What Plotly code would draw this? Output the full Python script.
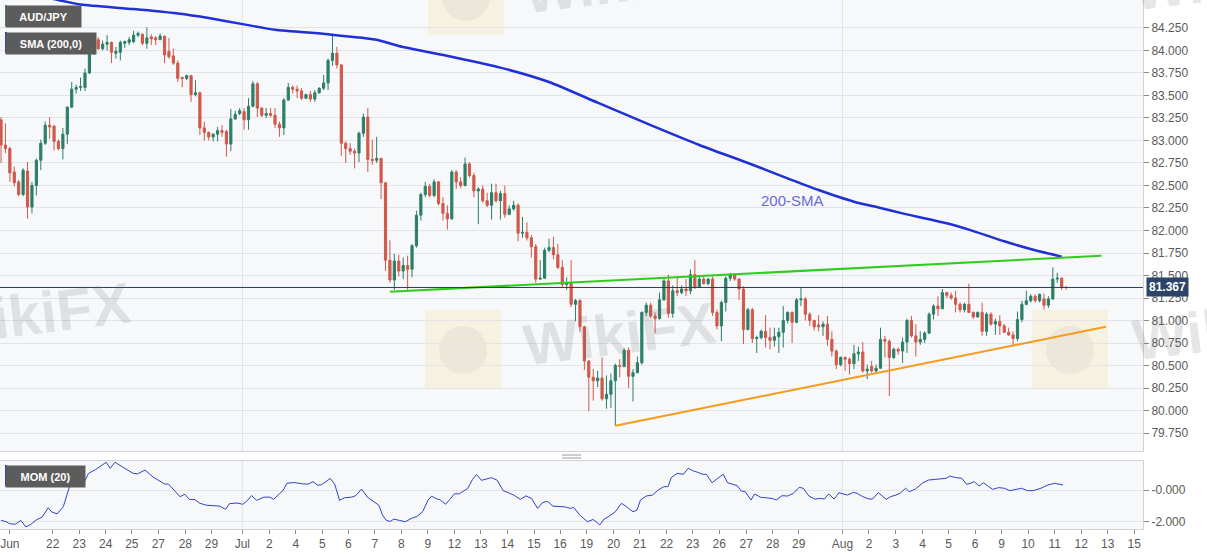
import plotly.graph_objects as go

# ---- data (AUD/JPY, 4H bars, bar 0 = first bar on the left) ----
opens = [
    83.23, 82.95, 82.91, 82.65, 82.54, 82.40, 82.66, 82.26, 82.50, 82.78, 82.97, 83.17,
    83.16, 82.99, 82.91, 83.07, 83.37, 83.57, 83.59, 83.59, 83.75, 84.01, 84.12, 84.02,
    84.07, 84.09, 83.97, 83.98, 84.08, 84.09, 84.10, 84.17, 84.18, 84.08, 84.15, 84.14,
    84.12, 84.16, 83.99, 83.94, 83.86, 83.70, 83.69, 83.72, 83.51, 83.53, 83.14, 83.09,
    83.04, 83.07, 83.11, 83.10, 82.96, 83.24, 83.30, 83.32, 83.23, 83.38, 83.63, 83.36,
    83.28, 83.30, 83.28, 83.18, 83.14, 83.45, 83.59, 83.57, 83.55, 83.47, 83.51, 83.46,
    83.53, 83.58, 83.64, 83.89, 83.97, 83.84, 82.97, 82.91, 82.88, 82.86, 83.08, 83.26,
    82.79, 82.78, 82.80, 82.53, 81.67, 81.45, 81.66, 81.55, 81.61, 81.57, 81.83, 82.17,
    82.40, 82.49, 82.39, 82.54, 82.30, 82.19, 82.13, 82.65, 82.54, 82.50, 82.74, 82.61,
    82.44, 82.46, 82.33, 82.28, 82.42, 82.33, 82.41, 82.18, 82.24, 82.28, 81.97, 81.98,
    81.92, 81.82, 81.46, 81.47, 81.78, 81.81, 81.73, 81.59, 81.40, 81.42, 81.18, 81.22,
    80.93, 80.55, 80.37, 80.33, 80.36, 80.13, 80.18, 80.33, 80.50, 80.49, 80.67, 80.38,
    80.42, 80.53, 81.09, 81.17, 81.05, 81.02, 81.23, 81.44, 81.08, 81.33, 81.31, 81.35,
    81.33, 81.51, 81.37, 81.46, 81.41, 81.46, 81.09, 80.94, 81.20, 81.47, 81.51, 81.46,
    81.35, 80.90, 81.12, 80.80, 80.81, 80.88, 80.81, 80.78, 80.82, 80.87, 81.00, 81.09,
    80.98, 81.23, 81.24, 81.07, 81.00, 80.95, 80.93, 80.96, 80.79, 80.66, 80.51, 80.59,
    80.57, 80.52, 80.63, 80.65, 80.44, 80.49, 80.44, 80.47, 80.79, 80.77, 80.59, 80.68,
    80.66, 80.76, 81.00, 80.83, 80.76, 80.79, 80.86, 81.07, 81.16, 81.13, 81.31, 81.28,
    81.25, 81.18, 81.12, 81.18, 81.09, 81.04, 81.09, 80.88, 81.07, 80.96, 80.99, 80.94,
    80.87, 80.84, 80.80, 81.01, 81.18, 81.22, 81.27, 81.22, 81.24, 81.17, 81.24, 81.46,
    81.47, 81.37,
]
highs = [
    83.26, 83.19, 82.93, 82.71, 82.56, 82.69, 82.76, 82.54, 82.80, 83.01, 83.21, 83.26,
    83.17, 83.01, 83.14, 83.38, 83.65, 83.62, 83.70, 83.80, 84.02, 84.15, 84.15, 84.11,
    84.17, 84.10, 84.04, 84.11, 84.11, 84.15, 84.22, 84.21, 84.19, 84.26, 84.18, 84.16,
    84.19, 84.16, 84.14, 84.02, 83.89, 83.71, 83.73, 83.73, 83.67, 83.54, 83.21, 83.10,
    83.08, 83.15, 83.17, 83.12, 83.35, 83.33, 83.36, 83.36, 83.47, 83.66, 83.65, 83.37,
    83.36, 83.36, 83.36, 83.21, 83.47, 83.64, 83.61, 83.61, 83.58, 83.52, 83.55, 83.56,
    83.59, 83.73, 83.91, 84.19, 84.04, 83.85, 82.99, 82.97, 82.91, 83.10, 83.30, 83.36,
    83.01, 83.04, 82.81, 82.54, 81.89, 81.74, 81.73, 81.70, 81.72, 81.85, 82.22, 82.42,
    82.54, 82.52, 82.57, 82.55, 82.37, 82.28, 82.67, 82.67, 82.59, 82.81, 82.76, 82.64,
    82.48, 82.50, 82.42, 82.52, 82.52, 82.44, 82.50, 82.28, 82.33, 82.30, 82.15, 82.09,
    81.95, 81.85, 81.67, 81.81, 81.91, 81.93, 81.85, 81.67, 81.48, 81.67, 81.24, 81.24,
    80.94, 80.56, 80.46, 80.44, 80.59, 80.39, 80.41, 80.52, 80.57, 80.69, 80.70, 80.46,
    80.60, 81.10, 81.20, 81.20, 81.09, 81.31, 81.46, 81.51, 81.39, 81.49, 81.39, 81.46,
    81.57, 81.67, 81.49, 81.49, 81.47, 81.49, 81.12, 81.22, 81.49, 81.53, 81.52, 81.47,
    81.38, 81.14, 81.14, 80.83, 80.90, 81.06, 80.92, 80.92, 80.92, 81.16, 81.10, 81.10,
    81.25, 81.36, 81.26, 81.09, 81.01, 81.06, 80.99, 81.05, 80.88, 80.68, 80.60, 80.60,
    80.59, 80.73, 80.71, 80.76, 80.51, 80.55, 80.51, 80.92, 80.83, 80.79, 80.70, 80.70,
    80.81, 81.02, 81.05, 80.96, 80.88, 80.88, 81.09, 81.18, 81.27, 81.35, 81.32, 81.31,
    81.33, 81.20, 81.20, 81.41, 81.10, 81.10, 81.20, 81.09, 81.09, 81.02, 81.06, 80.96,
    80.92, 80.88, 81.10, 81.22, 81.33, 81.29, 81.29, 81.30, 81.30, 81.27, 81.59, 81.53,
    81.48, 81.38,
]
lows = [
    82.75, 82.86, 82.54, 82.49, 82.38, 82.38, 82.13, 82.19, 82.39, 82.67, 82.95, 83.02,
    82.89, 82.89, 82.79, 82.96, 83.36, 83.52, 83.55, 83.55, 83.74, 83.95, 84.01, 84.00,
    84.00, 83.86, 83.91, 83.89, 84.03, 84.06, 84.08, 84.15, 84.06, 84.02, 84.06, 84.06,
    84.12, 83.86, 83.91, 83.84, 83.65, 83.59, 83.67, 83.43, 83.49, 83.06, 83.00, 83.00,
    82.99, 82.99, 83.04, 82.82, 82.88, 83.23, 83.28, 83.12, 83.12, 83.37, 83.26, 83.26,
    83.25, 83.26, 83.14, 83.04, 83.06, 83.44, 83.52, 83.47, 83.45, 83.46, 83.43, 83.43,
    83.52, 83.56, 83.56, 83.83, 83.80, 82.83, 82.75, 82.84, 82.69, 82.76, 83.04, 82.65,
    82.73, 82.75, 82.35, 81.55, 81.42, 81.34, 81.49, 81.46, 81.34, 81.48, 81.81, 82.11,
    82.37, 82.37, 82.37, 82.28, 82.11, 82.01, 82.12, 82.46, 82.47, 82.49, 82.59, 82.37,
    82.07, 82.31, 82.26, 82.12, 82.31, 82.12, 82.14, 82.17, 82.22, 81.88, 81.92, 81.89,
    81.70, 81.42, 81.45, 81.46, 81.76, 81.68, 81.57, 81.37, 81.34, 81.15, 80.99, 80.87,
    80.45, 79.99, 80.11, 80.26, 80.11, 80.02, 80.03, 79.83, 80.37, 80.48, 80.25, 80.10,
    80.42, 80.51, 81.05, 81.03, 80.86, 81.01, 81.22, 81.03, 81.03, 81.27, 81.29, 81.27,
    81.29, 81.35, 81.36, 81.40, 81.39, 81.05, 80.90, 80.77, 81.10, 81.44, 81.44, 81.23,
    80.74, 80.89, 80.75, 80.64, 80.79, 80.70, 80.68, 80.71, 80.64, 80.70, 80.97, 80.75,
    80.97, 81.16, 81.00, 80.94, 80.89, 80.88, 80.83, 80.72, 80.60, 80.46, 80.49, 80.44,
    80.40, 80.46, 80.55, 80.42, 80.35, 80.42, 80.42, 80.46, 80.59, 80.16, 80.57, 80.62,
    80.53, 80.64, 80.81, 80.60, 80.73, 80.75, 80.85, 81.01, 81.05, 81.13, 81.25, 81.23,
    81.09, 81.09, 81.09, 81.09, 81.02, 81.03, 80.83, 80.83, 80.94, 80.84, 80.84, 80.86,
    80.83, 80.72, 80.77, 80.98, 81.17, 81.20, 81.20, 81.20, 81.12, 81.14, 81.23, 81.42,
    81.34, 81.34,
]
closes = [
    82.95, 82.91, 82.64, 82.53, 82.40, 82.67, 82.26, 82.50, 82.78, 82.97, 83.17, 83.15,
    82.99, 82.91, 83.07, 83.37, 83.57, 83.59, 83.60, 83.75, 84.01, 84.12, 84.02, 84.07,
    84.09, 83.98, 83.99, 84.09, 84.10, 84.12, 84.17, 84.19, 84.08, 84.14, 84.13, 84.12,
    84.16, 83.95, 83.93, 83.86, 83.69, 83.69, 83.72, 83.51, 83.53, 83.14, 83.09, 83.04,
    83.07, 83.11, 83.09, 82.96, 83.24, 83.29, 83.33, 83.23, 83.38, 83.63, 83.36, 83.28,
    83.30, 83.28, 83.18, 83.14, 83.45, 83.59, 83.57, 83.55, 83.47, 83.51, 83.46, 83.53,
    83.58, 83.64, 83.89, 83.97, 83.84, 82.97, 82.91, 82.88, 82.86, 83.08, 83.26, 82.79,
    82.78, 82.80, 82.53, 81.67, 81.45, 81.66, 81.55, 81.61, 81.57, 81.83, 82.17, 82.40,
    82.49, 82.39, 82.54, 82.30, 82.19, 82.13, 82.65, 82.54, 82.50, 82.74, 82.61, 82.44,
    82.46, 82.33, 82.28, 82.42, 82.33, 82.41, 82.18, 82.24, 82.28, 81.97, 81.98, 81.92,
    81.82, 81.46, 81.47, 81.78, 81.81, 81.73, 81.59, 81.40, 81.42, 81.18, 81.22, 80.93,
    80.55, 80.37, 80.33, 80.36, 80.13, 80.18, 80.33, 80.50, 80.49, 80.67, 80.38, 80.42,
    80.53, 81.09, 81.17, 81.05, 81.02, 81.23, 81.44, 81.08, 81.33, 81.31, 81.35, 81.33,
    81.51, 81.37, 81.46, 81.41, 81.46, 81.09, 80.94, 81.20, 81.47, 81.51, 81.46, 81.35,
    80.90, 81.12, 80.80, 80.81, 80.88, 80.81, 80.78, 80.82, 80.87, 81.00, 81.09, 80.98,
    81.23, 81.24, 81.07, 81.00, 80.93, 80.93, 80.96, 80.79, 80.66, 80.51, 80.59, 80.57,
    80.52, 80.63, 80.65, 80.44, 80.46, 80.44, 80.47, 80.79, 80.77, 80.59, 80.68, 80.66,
    80.76, 81.00, 80.83, 80.76, 80.79, 80.86, 81.07, 81.16, 81.13, 81.31, 81.28, 81.25,
    81.18, 81.12, 81.18, 81.09, 81.04, 81.09, 80.88, 81.07, 80.96, 80.99, 80.94, 80.87,
    80.84, 80.80, 81.01, 81.18, 81.22, 81.27, 81.22, 81.29, 81.17, 81.24, 81.46, 81.47,
    81.37, 81.367,
]
bars = list(range(len(closes)))

# 200-period SMA, sampled along the curve
sma_bar = [0, 13, 18, 30, 40, 47, 55, 62, 74, 85, 90, 102, 113, 124, 135, 147, 158,
           169, 179, 185, 193, 199, 204, 214, 219, 227, 234, 240]
sma_val = [84.70, 84.56, 84.51, 84.46, 84.41, 84.36, 84.29, 84.23, 84.18, 84.12, 84.05,
           83.93, 83.81, 83.65, 83.42, 83.17, 82.95, 82.75, 82.56, 82.45, 82.32, 82.25,
           82.19, 82.08, 82.01, 81.88, 81.78, 81.71]

# trend lines (bar, price) at their two ends
resist_bar = [88, 249]
resist_val = [81.32, 81.72]
support_bar = [139, 250]
support_val = [79.83, 80.93]

# momentum (20)
mom_bar = [
    0, 1.1, 1.9, 3.2, 4.5, 5.6, 6.7, 8.0, 9.3, 10.7,
    11.4, 12.7, 14.1, 14.9, 15.6, 16.6, 17.9, 18.8, 19.8, 21.4,
    22.7, 23.8, 24.7, 25.8, 27.5, 29.9, 30.9, 32.6, 34.4, 35.7,
    37.0, 37.9, 39.2, 40.5, 41.6, 42.6, 43.9, 45.0, 46.5, 48.2,
    49.5, 50.8, 51.7, 53.4, 54.7, 55.6, 56.7, 57.8, 59.5, 60.8,
    61.7, 63.0, 63.8, 64.7, 66.4, 68.2, 69.5, 70.6, 71.6, 72.5,
    73.5, 74.5, 75.5, 76.6, 77.7, 79.4, 80.3, 81.6, 82.9, 84.2,
    85.5, 86.3, 87.2, 88.1, 88.9, 90.2, 91.5, 92.8, 94.1, 95.4,
    96.6, 97.4, 98.5, 99.3, 100.6, 101.5, 102.6, 103.7, 105.6, 106.7,
    107.6, 108.7, 109.7, 111.0, 112.3, 113.6, 114.9, 116.2, 117.5, 118.8,
    120.1, 121.4, 122.5, 123.6, 124.9, 126.2, 127.5, 128.8, 129.6, 130.9,
    132.7, 134.0, 135.5,
    136.4, 137.7, 139.0, 140.4, 141.7, 143.0, 143.9, 144.7, 146.0, 147.4,
    148.7, 150.0, 150.9, 151.7, 153.0, 154.4, 155.5, 156.5, 157.9, 158.7,
    159.6, 160.9, 162.2, 163.4, 164.4, 165.7, 166.6, 167.5, 168.4, 169.7,
    170.5, 171.9, 173.2, 174.5, 175.4, 176.7, 178.0, 179.3, 180.6, 181.5,
    182.8, 184.1, 185.4, 186.3, 187.3, 188.5, 189.6, 190.7, 191.5, 192.9,
    193.7, 195.0, 196.4, 197.2, 198.5, 200.3, 201.3, 202.5, 203.4, 204.7,
    205.5, 206.9, 208.6, 209.9, 211.2, 212.5, 213.9, 214.7, 216.0, 217.4,
    218.5, 219.4, 220.2, 221.3, 222.3, 223.5, 224.4, 225.7, 227.0, 228.3,
    229.6, 230.9, 232.2, 233.5, 235.3, 236.9, 238.4, 240.3,
]
mom_val = [
    -1.92, -1.99, -2.12, -2.16, -1.92, -2.33, -2.18, -1.88, -1.71, -1.12,
    -1.37, -1.51, -1.05, -0.24, 0.31, 0.37, 0.25, 0.47, 1.05, 1.29,
    1.55, 1.75, 1.37, 1.75, 1.45, 1.05, 1.02, 1.26, 0.82, 0.60,
    0.38, 0.37, -0.04, -0.42, -0.27, -0.59, -0.61, -0.84, -0.96, -1.02,
    -1.02, -1.22, -0.86, -0.82, -0.90, -0.71, -0.35, -0.65, -0.45, -0.45,
    -0.59, -0.24, -0.04, 0.43, 0.47, 0.39, 0.37, 0.53, 0.31, 0.33,
    0.53, 0.73, 0.37, -0.65, -0.49, -0.45, -0.35, 0.06, -0.45, -0.69,
    -0.96, -1.57, -1.92, -1.98, -1.84, -1.92, -2.00, -1.80, -1.67, -1.37,
    -0.65, -0.39, -0.55, -0.61, -0.90, -0.61, -0.24, -0.24, 0.10, 0.67,
    0.98, 0.61, 0.67, 0.78, 0.61, -0.04, -0.18, -0.35, -0.59, -0.37,
    -0.55, -1.16, -0.80, -0.71, -1.02, -1.06, -1.06, -1.16, -1.10, -1.57,
    -2.00, -1.86, -2.20,
    -1.85, -1.64, -1.37, -0.84, -1.09, -1.37, -1.26, -0.63, -0.38, -0.32,
    0.00, 0.21, 0.21, 0.80, 1.05, 0.99, 1.37, 1.22, 1.09, 0.99,
    0.99, 0.46, 0.74, 0.99, 0.46, 0.32, 0.27, -0.06, -0.11, -0.63,
    -0.25, -0.46, -0.48, -0.53, -0.63, -0.36, -0.38, -0.21, 0.17, 0.11,
    -0.38, -0.57, -0.53, -0.57, -0.25, -0.57, -0.17, -0.27, -0.32, -0.15,
    -0.21, -0.42, -0.57, -0.57, -0.17, -0.59, -0.42, -0.32, -0.21, 0.11,
    -0.11, 0.06, 0.46, 0.63, 0.67, 0.74, 0.74, 0.88, 0.78, 0.74,
    0.36, 0.42, 0.53, 0.25, 0.46, 0.21, 0.04, 0.15, 0.11, -0.04,
    0.04, 0.11, -0.04, -0.04, 0.11, 0.32, 0.42, 0.32,
]

# x axis day labels and the bar where each one sits
tick_text = ["Jun", "22", "23", "24", "25", "27", "28", "29", "Jul", "2", "4", "5", "6",
             "7", "8", "9", "12", "13", "14", "15", "16", "19", "20", "21", "22", "23",
             "26", "27", "28", "29", "Aug", "2", "3", "4", "5", "6", "9", "10", "11",
             "12", "13", "15"]
tick_bar = [2.0, 11.7, 17.7, 23.7, 29.6, 35.6, 41.7, 47.6, 54.6, 60.7, 66.7, 72.7, 78.6,
            84.6, 90.6, 96.6, 102.6, 108.6, 114.6, 120.6, 126.5, 132.5, 138.6, 144.5,
            150.6, 156.5, 162.5, 168.6, 174.6, 180.5, 190.4, 196.4, 202.5, 208.5, 214.4,
            220.4, 226.4, 232.4, 238.4, 244.4, 250.4, 256.4]
price_ticks = [79.75, 80.00, 80.25, 80.50, 80.75, 81.00, 81.25, 81.50, 81.75, 82.00,
               82.25, 82.50, 82.75, 83.00, 83.25, 83.50, 83.75, 84.00, 84.25]
mom_ticks = [0, -2]
mom_tick_text = ["-0.000", "-2.000"]
sma_label = ("200-SMA", 179, 82.33)

# ---- styling ----
GREEN = "#2b7f66"
RED = "#d0584a"
GRID = "#e3e4e8"
FRAME = "#cfd2da"
FONT = "Arial, Liberation Sans, sans-serif"
PLOT_W, PLOT_H = 1143, 529          # plot area in pixels
X_RANGE = [-0.23, 258.4]


def px_x(px):
    """Pixel column inside the plot area -> paper x."""
    return px / PLOT_W


def px_y(py):
    """Pixel row inside the plot area -> paper y."""
    return 1 - py / PLOT_H


def label_box(text, px0, py0, w, h, stripe):
    """Dark indicator tag with a coloured stripe on its left edge."""
    ann = dict(text="<b>%s</b>" % text, xref="paper", yref="paper", x=px_x(px0), y=px_y(py0),
               xanchor="left", yanchor="top", showarrow=False, width=w, height=h,
               bgcolor="#5c5c5c", borderpad=0, font=dict(color="white", size=11, family=FONT))
    shp = dict(type="rect", xref="paper", yref="paper", x0=px_x(px0), x1=px_x(px0 + 2),
               y0=px_y(py0 + h), y1=px_y(py0), fillcolor=stripe, line=dict(width=0))
    return ann, shp


fig = go.Figure()

fig.add_trace(go.Candlestick(
    x=bars, open=opens, high=highs, low=lows, close=closes,
    increasing=dict(line=dict(color=GREEN, width=1), fillcolor=GREEN),
    decreasing=dict(line=dict(color=RED, width=1), fillcolor=RED),
    xaxis="x", yaxis="y", name="AUD/JPY"))

fig.add_trace(go.Scatter(x=sma_bar, y=sma_val, mode="lines", xaxis="x", yaxis="y",
                         line=dict(color="#1f30d4", width=2.5, shape="spline", smoothing=0.6)))
fig.add_trace(go.Scatter(x=resist_bar, y=resist_val, mode="lines", xaxis="x", yaxis="y",
                         line=dict(color="#2fcc1f", width=2)))
fig.add_trace(go.Scatter(x=support_bar, y=support_val, mode="lines", xaxis="x", yaxis="y",
                         line=dict(color="#f59a1b", width=2)))

fig.add_trace(go.Scatter(x=mom_bar, y=mom_val, mode="lines", xaxis="x2", yaxis="y2",
                         line=dict(color="#2f44c8", width=1)))

last_price = closes[-1]
month_bars = [tick_bar[tick_text.index(m)] for m in ("Jul", "Aug")]

shapes = []
annotations = []

# last price line across the main panel
shapes.append(dict(type="line", xref="paper", yref="y", x0=0, x1=1, y0=last_price,
                   y1=last_price, line=dict(color="#2a3d5a", width=1)))
# month separators in the momentum panel
for mb in month_bars:
    shapes.append(dict(type="line", xref="x2", yref="y2 domain", x0=mb, x1=mb, y0=0, y1=1,
                       line=dict(color=GRID, width=1), layer="below"))
# drag handle between panels
for py in (455, 458):
    shapes.append(dict(type="line", xref="paper", yref="paper", x0=px_x(562), x1=px_x(581),
                       y0=px_y(py), y1=px_y(py), line=dict(color="#9a9a9a", width=1)))

# watermark badges and text (page overlay of the source site)
for bx, by in ((425, 310), (1032, 310), (428, -43)):
    shapes.append(dict(type="rect", xref="paper", yref="paper", x0=px_x(bx), x1=px_x(bx + 76),
                       y0=px_y(by + 78), y1=px_y(by), fillcolor="rgba(248,222,150,0.24)",
                       line=dict(width=0), layer="below"))
    shapes.append(dict(type="circle", xref="paper", yref="paper", x0=px_x(bx + 14),
                       x1=px_x(bx + 62), y0=px_y(by + 64), y1=px_y(by + 16),
                       fillcolor="rgba(110,110,120,0.08)", line=dict(width=0), layer="below"))
for wx, wy in ((619, 333), (34, 313), (1228, 328), (619, -18), (1228, -22)):
    annotations.append(dict(text="<b>WikiFX</b>", xref="paper", yref="paper", x=px_x(wx),
                            y=px_y(wy), xanchor="center", yanchor="middle", showarrow=False,
                            textangle=-7,
                            font=dict(size=58, color="rgba(105,105,105,0.17)", family=FONT)))

for args in (("AUD/JPY", 5, 5, 75, 21, "#3f8c80"),
             ("SMA (200,0)", 5, 32, 90, 21, "#2233dd"),
             ("MOM (20)", 5, 465, 79, 21, "#2233dd")):
    ann, shp = label_box(*args)
    annotations.append(ann)
    shapes.append(shp)

annotations.append(dict(text=sma_label[0], x=sma_label[1], y=sma_label[2], xref="x", yref="y",
                        showarrow=False, font=dict(size=15, color="#6a6ad8", family=FONT)))
annotations.append(dict(text="<b>%.3f</b>" % last_price, xref="paper", yref="y",
                        x=px_x(1146), y=last_price, xanchor="left", yanchor="middle",
                        showarrow=False, bgcolor="#2b4467", borderpad=2,
                        font=dict(size=12, color="white", family=FONT)))

axis_common = dict(showline=True, linecolor=FRAME, mirror=True, zeroline=False)

fig.update_layout(
    width=1207, height=555,
    margin=dict(l=0, r=64, t=0, b=26),
    paper_bgcolor="white", plot_bgcolor="#f7f8fa",
    showlegend=False,
    font=dict(family=FONT, size=12, color="#5a5a5a"),
    xaxis=dict(domain=[0, 1], anchor="y", range=X_RANGE, tickvals=month_bars,
               showticklabels=False, ticks="", showgrid=True, gridcolor=GRID,
               rangeslider=dict(visible=False), **axis_common),
    yaxis=dict(domain=[1 - 451 / PLOT_H, 1], anchor="x", range=[79.55, 84.561], side="right",
               tickvals=price_ticks, ticktext=["%.3f" % v for v in price_ticks],
               ticks="outside", ticklen=5, tickcolor="#8a8a8a", gridcolor=GRID,
               tickfont=dict(size=12, color="#5a5a5a"), **axis_common),
    xaxis2=dict(domain=[0, 1], anchor="y2", range=X_RANGE, tickvals=tick_bar,
                ticktext=tick_text, ticks="outside", ticklen=4, tickcolor="#8a8a8a",
                showgrid=False, tickfont=dict(size=12, color="#5a5a5a"), **axis_common),
    yaxis2=dict(domain=[0, 68 / PLOT_H], anchor="x2", range=[-2.46, 1.83], side="right",
                tickvals=mom_ticks, ticktext=mom_tick_text, ticks="outside", ticklen=5,
                tickcolor="#8a8a8a", gridcolor=GRID, tickfont=dict(size=12, color="#5a5a5a"),
                **axis_common),
    shapes=shapes,
    annotations=annotations,
)

# the page has a default 8px body margin; drop it so the chart sits at the top-left corner
fig.write_html("out.html", config={"displayModeBar": False},
               post_script="document.body.style.margin = '0';")
